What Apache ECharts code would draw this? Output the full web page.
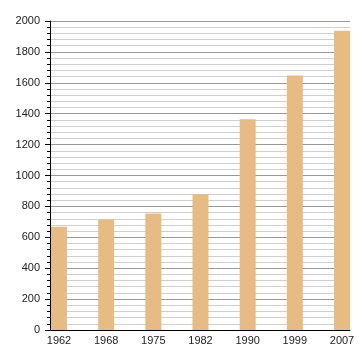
<!DOCTYPE html>
<html>
<head>
<meta charset="utf-8">
<script src="https://cdn.jsdelivr.net/npm/echarts@6/dist/echarts.min.js"></script>
<style>html,body{margin:0;padding:0;background:#fff}#c{width:360px;height:360px}</style>
</head>
<body>
<div id="c"></div>
<script>
var categories = ['1962', '1968', '1975', '1982', '1990', '1999', '2007'];
var values = [668, 716, 754, 879, 1364, 1648, 1937];
var yMin = 0, yMax = 2000, yStep = 200;

var chart = echarts.init(document.getElementById('c'), null, {renderer: 'canvas'});
var font = 'Liberation Sans, Arial, sans-serif';
chart.setOption({
  animation: false,
  backgroundColor: '#fff',
  grid: [
    {left: 50, right: 10, top: 21, bottom: 30},
    {left: 59, right: 18, top: 21, bottom: 30}
  ],
  xAxis: [
    {gridIndex: 0, type: 'value', min: 0, max: 1,
     axisLine: {show: true, lineStyle: {color: '#000', width: 1}},
     axisTick: {show: false}, axisLabel: {show: false}, splitLine: {show: false}},
    {gridIndex: 1, type: 'category', data: categories, boundaryGap: false,
     axisLine: {show: false}, axisTick: {show: false},
     axisLabel: {color: '#222', fontSize: 11, fontFamily: font, margin: 5},
     splitLine: {show: false}}
  ],
  yAxis: [
    {gridIndex: 0, type: 'value', min: yMin, max: yMax, interval: yStep,
     axisLine: {show: true, lineStyle: {color: '#000', width: 1}},
     axisTick: {show: true, length: 5, lineStyle: {color: '#000'}},
     minorTick: {show: true, splitNumber: 5, length: 3, lineStyle: {color: '#000'}},
     splitLine: {show: true, lineStyle: {color: '#999', width: 1}},
     minorSplitLine: {show: true, lineStyle: {color: '#cfcfcf', width: 1}},
     axisLabel: {color: '#222', fontSize: 11, fontFamily: font, margin: 10,
                 formatter: function (v) { return String(v); }}},
    {gridIndex: 1, type: 'value', min: yMin, max: yMax, show: false,
     splitLine: {show: false}}
  ],
  series: [{
    type: 'bar', xAxisIndex: 1, yAxisIndex: 1,
    data: values, barWidth: 16,
    itemStyle: {color: '#e7bb84'}
  }]
});
</script>
</body>
</html>
